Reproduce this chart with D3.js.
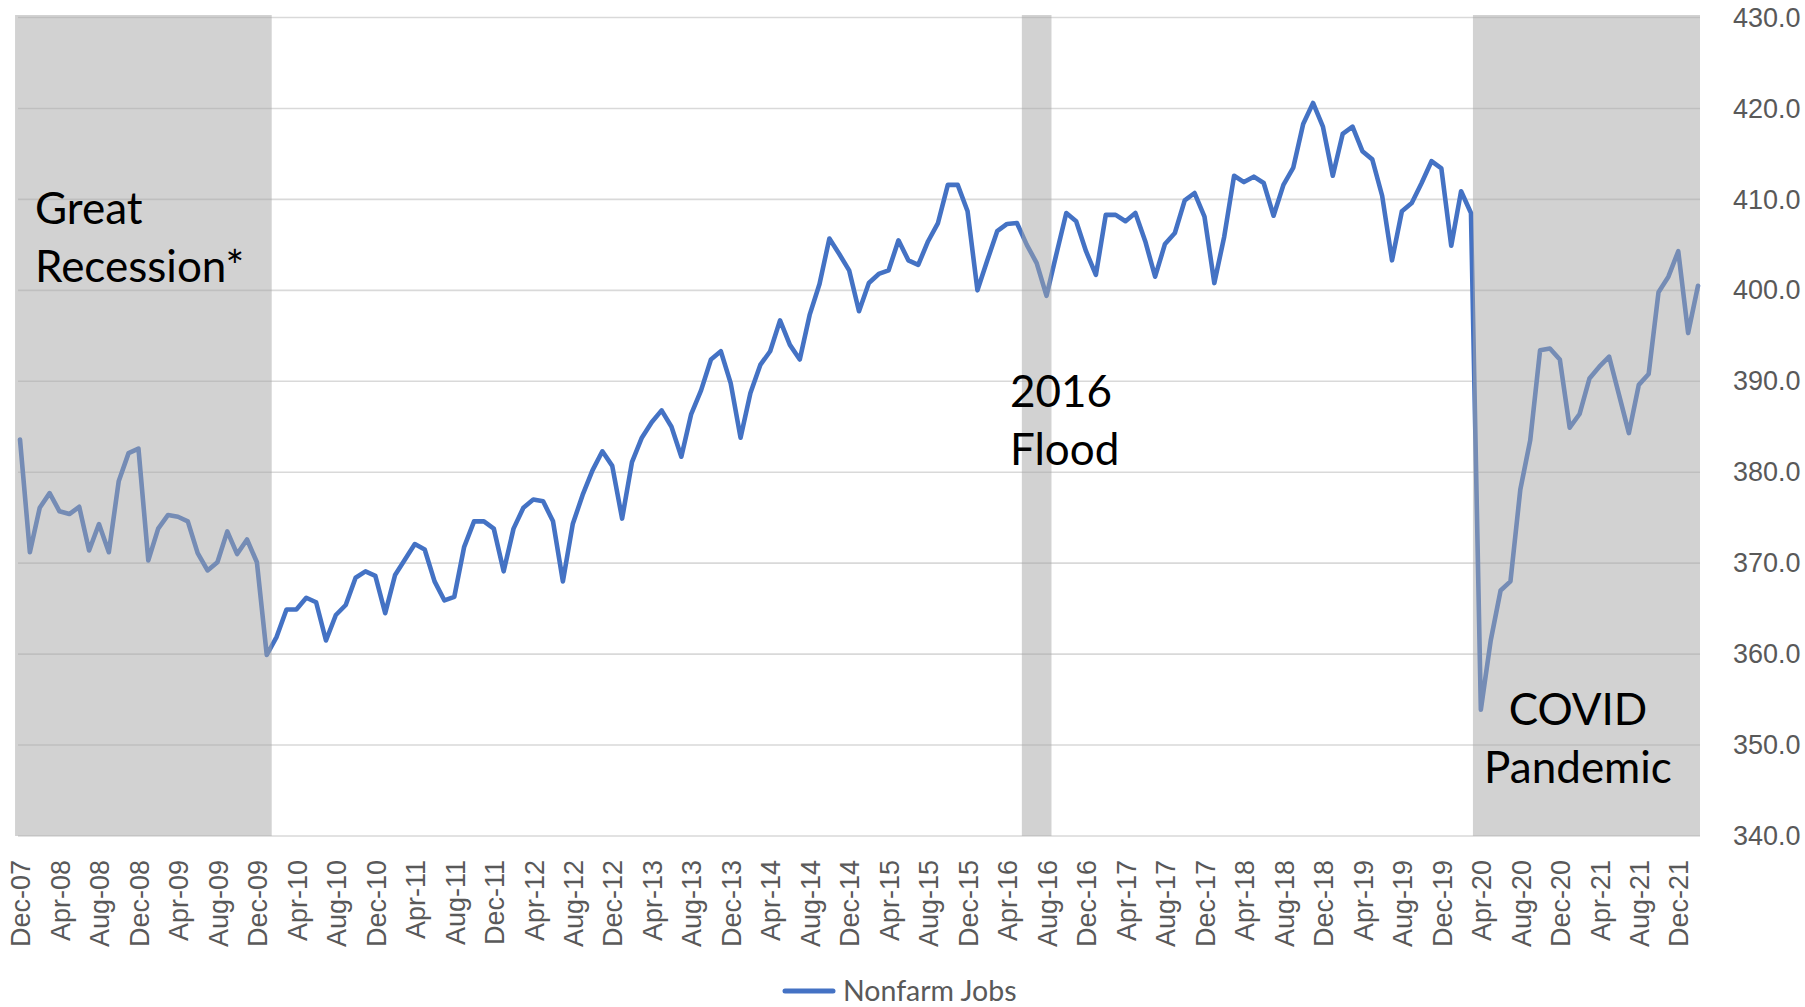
<!DOCTYPE html>
<html>
<head>
<meta charset="utf-8">
<script src="https://cdn.jsdelivr.net/npm/d3@7"></script>
<style>
  html, body { margin: 0; padding: 0; background: #fff; }
  svg { display: block; font-family: Lato, "Open Sans", sans-serif; }
</style>
</head>
<body>
<div id="chart"></div>
<script>
// Nonfarm jobs (thousands), monthly Dec-07 .. Feb-22
const jobs = [
  383.6,                                                                          // 2007 Dec
  371.2, 376.1, 377.7, 375.7, 375.4, 376.2, 371.4, 374.3, 371.2, 379.0, 382.1, 382.6, // 2008
  370.3, 373.8, 375.3, 375.1, 374.6, 371.1, 369.2, 370.1, 373.5, 371.0, 372.6, 370.1, // 2009
  359.9, 361.9, 364.9, 364.9, 366.2, 365.7, 361.5, 364.3, 365.4, 368.4, 369.1, 368.6, // 2010
  364.5, 368.7, 370.4, 372.1, 371.5, 368.0, 365.9, 366.3, 371.8, 374.6, 374.6, 373.8, // 2011
  369.1, 373.8, 376.1, 377.0, 376.8, 374.6, 368.0, 374.3, 377.5, 380.2, 382.3, 380.7, // 2012
  374.9, 381.1, 383.8, 385.5, 386.8, 385.0, 381.7, 386.4, 389.0, 392.4, 393.3, 389.8, // 2013
  383.8, 388.7, 391.8, 393.3, 396.7, 394.0, 392.4, 397.3, 400.7, 405.7, 404.0, 402.2, // 2014
  397.7, 400.8, 401.8, 402.2, 405.5, 403.3, 402.8, 405.4, 407.4, 411.6, 411.6, 408.7, // 2015
  400.0, 403.3, 406.5, 407.3, 407.4, 405.0, 403.0, 399.4, 404.0, 408.5, 407.6, 404.3, // 2016
  401.7, 408.3, 408.3, 407.6, 408.5, 405.4, 401.5, 405.1, 406.3, 409.9, 410.7, 408.1, // 2017
  400.8, 405.9, 412.6, 411.9, 412.5, 411.8, 408.2, 411.6, 413.5, 418.3, 420.6, 418.0, // 2018
  412.6, 417.2, 418.0, 415.3, 414.4, 410.4, 403.3, 408.7, 409.6, 411.8, 414.2, 413.4, // 2019
  404.9, 410.9, 408.5, 353.9, 361.5, 367.0, 368.0, 378.1, 383.5, 393.4, 393.6, 392.4, // 2020
  384.9, 386.4, 390.3, 391.6, 392.7, 388.5, 384.3, 389.6, 390.8, 399.8, 401.5, 404.3, // 2021
  395.3, 400.5,                                                                   // 2022
];

const fmtMonth = d3.timeFormat("%b-%y");
const months = d3.timeMonth.range(new Date(2007, 11, 1), new Date(2022, 2, 1)).map(fmtMonth);

const yTicks = [340, 350, 360, 370, 380, 390, 400, 410, 420, 430];

// shaded periods
const shadeStart = ["Dec-07", "Jun-16", "Apr-20"];
const shadeEnd = ["Jan-10", "Aug-16", "Feb-22"];
const shadeLabel = [["Great", "Recession*"], ["2016", "Flood"], ["COVID", "Pandemic"]];

const width = 1805;
const height = 1007;
const plot = { left: 15, right: 1700, top: 17.5, bottom: 836 };

const svg = d3.select("#chart")
  .append("svg")
  .attr("width", width)
  .attr("height", height);

const x = d3.scalePoint()
  .domain(months)
  .range([20, 1698]);
const step = x.step();

const y = d3.scaleLinear()
  .domain([340, 430])
  .range([plot.bottom, plot.top]);

// gridlines
svg.append("g")
  .selectAll("line")
  .data(yTicks)
  .join("line")
    .attr("x1", 18)
    .attr("x2", plot.right)
    .attr("y1", (d) => y(d))
    .attr("y2", (d) => y(d))
    .attr("stroke", "#d9d9d9")
    .attr("stroke-width", 1.6);

// right value axis
const yAxis = svg.append("g")
  .attr("transform", `translate(${plot.right}, 0)`)
  .call(d3.axisRight(y).tickValues(yTicks).tickFormat(d3.format(".1f")).tickSize(0).tickPadding(33));
yAxis.select(".domain").remove();
yAxis.selectAll("text")
  .style("font-size", "27px")
  .style("fill", "#595959");

// bottom category axis, every 4th month
const xAxis = svg.append("g")
  .attr("transform", `translate(0, ${plot.bottom})`)
  .call(d3.axisBottom(x).tickValues(months.filter((m, i) => i % 4 === 0)).tickSize(0));
xAxis.select(".domain").remove();
xAxis.selectAll("text")
  .attr("transform", "rotate(-90)")
  .attr("x", -24)
  .attr("y", 0)
  .attr("dy", "0.36em")
  .style("text-anchor", "end")
  .style("font-size", "27px")
  .style("fill", "#595959");

// the series
const line = d3.line()
  .x((d, i) => x(months[i]))
  .y((d) => y(d));

svg.append("path")
  .datum(jobs)
  .attr("d", line)
  .attr("fill", "none")
  .attr("stroke", "#4472c4")
  .attr("stroke-width", 4.6)
  .attr("stroke-linejoin", "round")
  .attr("stroke-linecap", "round");

// shaded periods sit on top of the line
const shades = shadeStart.map((s, i) => ({
  x0: Math.max(plot.left, x(s) - step * (i === 2 ? 0.8 : 0.5)),
  x1: Math.min(plot.right, x(shadeEnd[i]) + step / 2),
  label: shadeLabel[i],
}));

svg.append("g")
  .selectAll("rect")
  .data(shades)
  .join("rect")
    .attr("x", (d) => d.x0)
    .attr("y", 15)
    .attr("width", (d) => d.x1 - d.x0)
    .attr("height", plot.bottom - 15)
    .attr("fill", "#a5a5a5")
    .attr("fill-opacity", 0.5);

// annotations
const notes = [
  { lines: shadeLabel[0], x: 35, y: 224, anchor: "start" },
  { lines: shadeLabel[1], x: 1010, y: 407, anchor: "start" },
  { lines: shadeLabel[2], x: 1578, y: 725, anchor: "middle" },
];
notes.forEach((n) => {
  svg.append("text")
    .attr("x", n.x)
    .attr("y", n.y)
    .style("font-size", "44px")
    .style("fill", "#000")
    .style("text-anchor", n.anchor)
    .selectAll("tspan")
    .data(n.lines)
    .join("tspan")
      .attr("x", n.x)
      .attr("dy", (d, i) => (i === 0 ? 0 : 58))
      .text((d) => d);
});

// legend
const legend = svg.append("g").attr("transform", "translate(785, 991)");
legend.append("line")
  .attr("x1", 0)
  .attr("x2", 48)
  .attr("stroke", "#4472c4")
  .attr("stroke-width", 5)
  .attr("stroke-linecap", "round");
legend.append("text")
  .attr("x", 58)
  .attr("dy", "0.36em")
  .style("font-size", "28.5px")
  .style("fill", "#595959")
  .text("Nonfarm Jobs");
</script>
</body>
</html>
